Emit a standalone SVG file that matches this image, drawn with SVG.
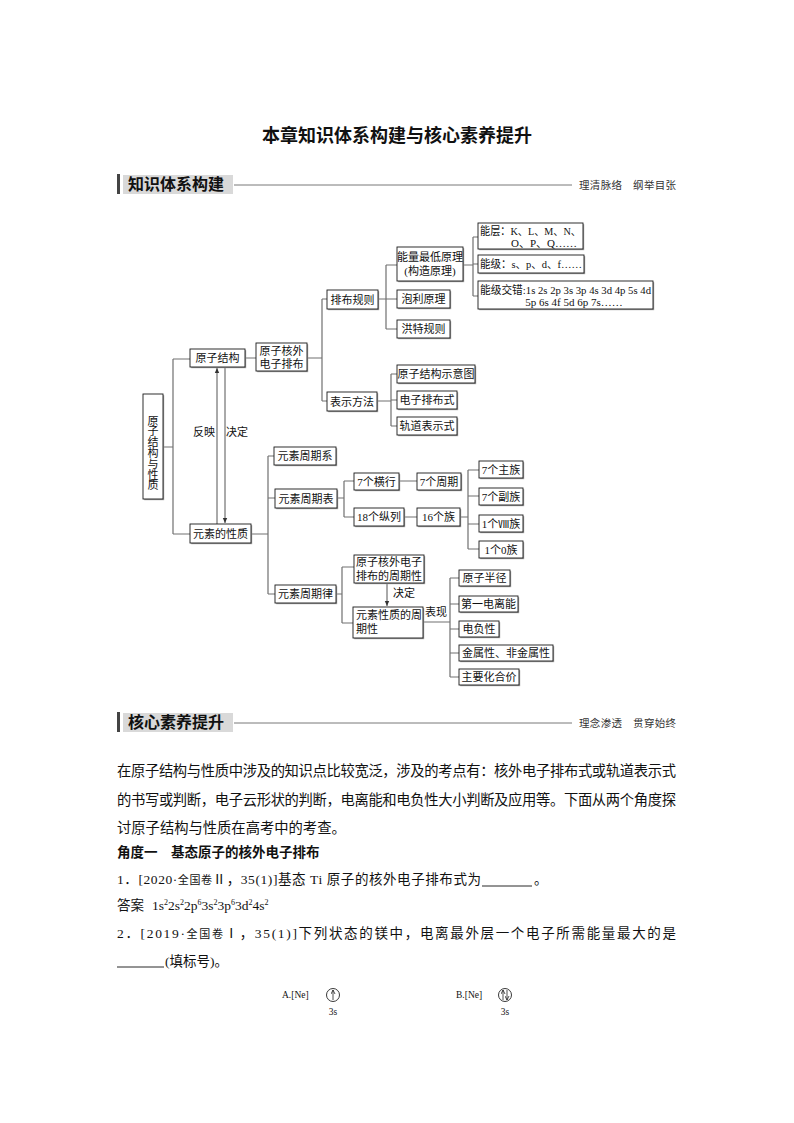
<svg xmlns="http://www.w3.org/2000/svg" width="794" height="1123" viewBox="0 0 794 1123">
<style>
.sd{fill:#a3a3a3}
.bx{fill:#fff;stroke:#1a1a1a;stroke-width:0.9}
.t{font-family:"Liberation Serif","Noto Sans CJK SC",serif;font-size:11px;fill:#111}
.m{text-anchor:middle}
.c{fill:none;stroke:#707070;stroke-width:1.2}
.ar{fill:none;stroke:#555;stroke-width:1}
.h{font-family:"Noto Sans CJK SC",sans-serif;font-weight:bold;fill:#111}
.r{font-family:"Noto Sans CJK SC",sans-serif;font-size:10.5px;fill:#333}
.p{font-family:"Liberation Serif","Noto Sans CJK SC",sans-serif;font-size:14.3px;fill:#111}
.q{font-family:"Liberation Serif","Noto Sans CJK SC",sans-serif;font-size:13.5px;fill:#111}
.s{font-family:"Liberation Serif","Noto Sans CJK SC",serif;font-size:9.5px;fill:#111}
</style>
<defs>
<marker id="ah" markerWidth="6" markerHeight="6" refX="5" refY="3" orient="auto" markerUnits="userSpaceOnUse">
<path d="M0,0.8 L5,3 L0,5.2 Z" fill="#333"/>
</marker>
<marker id="ah2" markerWidth="5" markerHeight="5" refX="4" refY="2.5" orient="auto" markerUnits="userSpaceOnUse">
<path d="M0,0.5 L4,2.5 L0,4.5" fill="none" stroke="#222" stroke-width="0.8"/>
</marker>
</defs>
<rect width="794" height="1123" fill="#fff"/>

<text x="397" y="142" text-anchor="middle" class="h" font-size="18">本章知识体系构建与核心素养提升</text>

<g id="header1">
<rect x="117" y="174" width="3" height="20" fill="#444"/>
<rect x="123" y="175" width="110" height="19" fill="#d9d9d9"/>
<text x="128" y="190" class="h" font-size="16">知识体系构建</text>
<line x1="234" y1="185" x2="572" y2="185" stroke="#555" stroke-width="0.8"/>
<text x="579" y="188.5" class="r" textLength="97" lengthAdjust="spacing">理清脉络　纲举目张</text>
</g>

<g id="connectors">
<path class="c" d="M163,447 H173 M173,359 V534 M173,359 H190 M173,534 H190"/>
<path class="c" d="M245,358 H256 M307,358 H322 M322,299 V401 M322,299 H327 M322,401 H327"/>
<path class="c" d="M378,299 H386 M386,265 V329 M386,265 H397 M386,299 H397 M386,329 H397"/>
<path class="c" d="M463,265 H473 M473,237 V296 M473,237 H478 M473,264 H478 M473,296 H478"/>
<path class="c" d="M377,401 H391 M391,374 V426 M391,374 H397 M391,400 H397 M391,426 H397"/>
<path class="ar" d="M217,524 V368" marker-end="url(#ah)"/>
<path class="ar" d="M225,367 V523" marker-end="url(#ah)"/>
<path class="c" d="M251,534 H268 M268,456 V594 M268,456 H274 M268,498 H275 M268,594 H275"/>
<path class="c" d="M337,498 H344 M344,481 V517 M344,481 H354 M344,517 H354 M399,481 H417 M404,517 H417"/>
<path class="c" d="M460,517 H468 M468,470 V549 M468,470 H479 M468,496 H479 M468,524 H479 M468,549 H479"/>
<path class="c" d="M336,594 H342 M342,567 V623 M342,567 H354 M342,623 H353"/>
<path class="ar" d="M387,583 V606" marker-end="url(#ah)"/>
<path class="c" d="M423,622 H450 M450,578 V677 M450,578 H459 M450,604 H459 M450,629 H459 M450,653 H459 M450,677 H459"/>
</g>

<g id="n-root">
<rect class="sd" x="144.2" y="395.2" width="20" height="105"/>
<rect class="bx" x="143" y="394" width="20" height="105"/>
<text class="t m" font-size="11"><tspan x="153" y="424.5">原</tspan><tspan x="153" y="435.3">子</tspan><tspan x="153" y="446.1">结</tspan><tspan x="153" y="456.9">构</tspan><tspan x="153" y="467.7">与</tspan><tspan x="153" y="478.5">性</tspan><tspan x="153" y="489.3">质</tspan></text>
</g>

<g id="n-yzjg">
<rect class="sd" x="191.2" y="350.2" width="55" height="18"/>
<rect class="bx" x="190" y="349" width="55" height="18"/>
<text class="t m" x="217.5" y="362">原子结构</text>
</g>
<g id="label-fy"><text class="t m" x="204" y="436">反映</text></g>
<g id="label-jd"><text class="t m" x="237" y="436">决定</text></g>
<g id="n-yzhw">
<rect class="sd" x="257.2" y="344.2" width="51" height="28"/>
<rect class="bx" x="256" y="343" width="51" height="28"/>
<text class="t m" x="281.5" y="354.5">原子核外</text>
<text class="t m" x="281.5" y="367.5">电子排布</text>
</g>
<g id="n-pbgz">
<rect class="sd" x="328.2" y="291.2" width="51" height="19"/>
<rect class="bx" x="327" y="290" width="51" height="19"/>
<text class="t m" x="352.5" y="303.5">排布规则</text>
</g>
<g id="n-ssff">
<rect class="sd" x="328.2" y="393.2" width="50" height="19"/>
<rect class="bx" x="327" y="392" width="50" height="19"/>
<text class="t m" x="352" y="405.5">表示方法</text>
</g>
<g id="n-nlzd">
<rect class="sd" x="398.2" y="248.2" width="66" height="34"/>
<rect class="bx" x="397" y="247" width="66" height="34"/>
<text class="t m" x="430" y="261">能量最低原理</text>
<text class="t m" x="430" y="275">(构造原理)</text>
</g>
<g id="n-plyl">
<rect class="sd" x="398.2" y="291.2" width="53" height="18"/>
<rect class="bx" x="397" y="290" width="53" height="18"/>
<text class="t m" x="423.5" y="303">泡利原理</text>
</g>
<g id="n-htgz">
<rect class="sd" x="398.2" y="321.2" width="53" height="18"/>
<rect class="bx" x="397" y="320" width="53" height="18"/>
<text class="t m" x="423.5" y="333">洪特规则</text>
</g>
<g id="n-nc">
<rect class="sd" x="479.2" y="224.2" width="105" height="26"/>
<rect class="bx" x="478" y="223" width="105" height="26"/>
<text class="t" x="480" y="235" textLength="101" lengthAdjust="spacingAndGlyphs">能层：K、L、M、N、</text>
<text class="t" x="511" y="247">O、P、Q……</text>
</g>
<g id="n-nj">
<rect class="sd" x="479.2" y="256.2" width="106" height="18"/>
<rect class="bx" x="478" y="255" width="106" height="18"/>
<text class="t" x="480" y="268" textLength="102" lengthAdjust="spacingAndGlyphs">能级：s、p、d、f……</text>
</g>
<g id="n-njjc">
<rect class="sd" x="479.2" y="282.2" width="175" height="28"/>
<rect class="bx" x="478" y="281" width="175" height="28"/>
<text class="t" x="480" y="293.5" textLength="171" lengthAdjust="spacingAndGlyphs">能级交错:1s 2s 2p 3s 3p 4s 3d 4p 5s 4d</text>
<text class="t m" x="574" y="306">5p 6s 4f 5d 6p 7s……</text>
</g>
<g id="n-jgsyt">
<rect class="sd" x="398.2" y="366.2" width="78" height="18"/>
<rect class="bx" x="397" y="365" width="78" height="18"/>
<text class="t m" x="436" y="378">原子结构示意图</text>
</g>
<g id="n-dzpbs">
<rect class="sd" x="398.2" y="392.2" width="60" height="18"/>
<rect class="bx" x="397" y="391" width="60" height="18"/>
<text class="t m" x="427" y="404">电子排布式</text>
</g>
<g id="n-gdbss">
<rect class="sd" x="398.2" y="418.2" width="60" height="18"/>
<rect class="bx" x="397" y="417" width="60" height="18"/>
<text class="t m" x="427" y="430">轨道表示式</text>
</g>

<g id="n-ysxz">
<rect class="sd" x="191.2" y="525.2" width="61" height="19"/>
<rect class="bx" x="190" y="524" width="61" height="19"/>
<text class="t m" x="220.5" y="537.5">元素的性质</text>
</g>
<g id="n-zqx">
<rect class="sd" x="275.2" y="448.2" width="62" height="18"/>
<rect class="bx" x="274" y="447" width="62" height="18"/>
<text class="t m" x="305" y="460">元素周期系</text>
</g>
<g id="n-zqb">
<rect class="sd" x="276.2" y="490.2" width="62" height="19"/>
<rect class="bx" x="275" y="489" width="62" height="19"/>
<text class="t m" x="306" y="502.5">元素周期表</text>
</g>
<g id="n-zql">
<rect class="sd" x="276.2" y="586.2" width="61" height="18"/>
<rect class="bx" x="275" y="585" width="61" height="18"/>
<text class="t m" x="305.5" y="598">元素周期律</text>
</g>
<g id="n-7hh">
<rect class="sd" x="355.2" y="474.2" width="45" height="17"/>
<rect class="bx" x="354" y="473" width="45" height="17"/>
<text class="t m" x="376.5" y="485.5">7个横行</text>
</g>
<g id="n-7zq">
<rect class="sd" x="418.2" y="474.2" width="44" height="17"/>
<rect class="bx" x="417" y="473" width="44" height="17"/>
<text class="t m" x="439" y="485.5">7个周期</text>
</g>
<g id="n-18zl">
<rect class="sd" x="355.2" y="509.2" width="50" height="18"/>
<rect class="bx" x="354" y="508" width="50" height="18"/>
<text class="t m" x="379" y="521">18个纵列</text>
</g>
<g id="n-16z">
<rect class="sd" x="418.2" y="509.2" width="43" height="18"/>
<rect class="bx" x="417" y="508" width="43" height="18"/>
<text class="t m" x="438.5" y="521">16个族</text>
</g>
<g id="n-7zz">
<rect class="sd" x="480.2" y="462.2" width="44" height="17"/>
<rect class="bx" x="479" y="461" width="44" height="17"/>
<text class="t m" x="501" y="473.5">7个主族</text>
</g>
<g id="n-7fz">
<rect class="sd" x="480.2" y="489.2" width="44" height="17"/>
<rect class="bx" x="479" y="488" width="44" height="17"/>
<text class="t m" x="501" y="500.5">7个副族</text>
</g>
<g id="n-1viii">
<rect class="sd" x="480.2" y="516.2" width="44" height="17"/>
<rect class="bx" x="479" y="515" width="44" height="17"/>
<text class="t m" x="501" y="527.5">1个Ⅷ族</text>
</g>
<g id="n-10z">
<rect class="sd" x="480.2" y="542.2" width="44" height="17"/>
<rect class="bx" x="479" y="541" width="44" height="17"/>
<text class="t m" x="501" y="553.5">1个0族</text>
</g>
<g id="n-hwzqx">
<rect class="sd" x="355.2" y="556.2" width="70" height="28"/>
<rect class="bx" x="354" y="555" width="70" height="28"/>
<text class="t m" x="389" y="566">原子核外电子</text>
<text class="t m" x="389" y="580">排布的周期性</text>
</g>
<g id="label-jd2"><text class="t m" x="404" y="597">决定</text></g>
<g id="n-xzzqx">
<rect class="sd" x="354.2" y="608.2" width="70" height="31"/>
<rect class="bx" x="353" y="607" width="70" height="31"/>
<text class="t" x="356" y="619">元素性质的周</text>
<text class="t" x="356" y="633">期性</text>
</g>
<g id="label-bx"><text class="t" x="425" y="616">表现</text></g>
<g id="n-yzbj">
<rect class="sd" x="460.2" y="571.2" width="51" height="16"/>
<rect class="bx" x="459" y="570" width="51" height="16"/>
<text class="t m" x="484.5" y="582">原子半径</text>
</g>
<g id="n-dydln">
<rect class="sd" x="460.2" y="597.2" width="59" height="16"/>
<rect class="bx" x="459" y="596" width="59" height="16"/>
<text class="t m" x="488.5" y="608">第一电离能</text>
</g>
<g id="n-dfx">
<rect class="sd" x="460.2" y="622.2" width="40" height="16"/>
<rect class="bx" x="459" y="621" width="40" height="16"/>
<text class="t m" x="479" y="633">电负性</text>
</g>
<g id="n-jsx">
<rect class="sd" x="460.2" y="646.2" width="94" height="16"/>
<rect class="bx" x="459" y="645" width="94" height="16"/>
<text class="t m" x="506" y="657">金属性、非金属性</text>
</g>
<g id="n-zyhhj">
<rect class="sd" x="460.2" y="670.2" width="60" height="16"/>
<rect class="bx" x="459" y="669" width="60" height="16"/>
<text class="t m" x="489" y="681">主要化合价</text>
</g>

<g id="header2">
<rect x="117" y="712" width="3" height="20" fill="#444"/>
<rect x="123" y="713" width="110" height="19" fill="#d9d9d9"/>
<text x="128" y="728" class="h" font-size="16">核心素养提升</text>
<line x1="234" y1="723" x2="572" y2="723" stroke="#555" stroke-width="0.8"/>
<text x="579" y="726.5" class="r" textLength="97" lengthAdjust="spacing">理念渗透　贯穿始终</text>
</g>

<g id="body">
<text class="p" x="117" y="776" textLength="559" lengthAdjust="spacing">在原子结构与性质中涉及的知识点比较宽泛，涉及的考点有：核外电子排布式或轨道表示式</text>
<text class="p" x="117" y="805" textLength="559" lengthAdjust="spacing">的书写或判断，电子云形状的判断，电离能和电负性大小判断及应用等。下面从两个角度探</text>
<text class="p" x="117" y="833">讨原子结构与性质在高考中的考查。</text>
<text class="q" x="117" y="857" font-weight="bold" font-size="13">角度一　基态原子的核外电子排布</text>
<text class="q" x="117" y="884" textLength="364" lengthAdjust="spacing">1．[2020·<tspan font-size="11">全国卷</tspan>Ⅱ，35(1)]基态 Ti 原子的核外电子排布式为</text>
<line x1="482" y1="886" x2="532" y2="886" stroke="#111" stroke-width="0.9"/>
<text class="q" x="534" y="884">。</text>
<text class="q" x="117" y="910" font-size="13">答案</text>
<text class="q" x="152" y="910" font-size="12.5">1s<tspan dy="-5" font-size="8">2</tspan><tspan dy="5">2s</tspan><tspan dy="-5" font-size="8">2</tspan><tspan dy="5">2p</tspan><tspan dy="-5" font-size="8">6</tspan><tspan dy="5">3s</tspan><tspan dy="-5" font-size="8">2</tspan><tspan dy="5">3p</tspan><tspan dy="-5" font-size="8">6</tspan><tspan dy="5">3d</tspan><tspan dy="-5" font-size="8">2</tspan><tspan dy="5">4s</tspan><tspan dy="-5" font-size="8">2</tspan></text>
<text class="q" x="117" y="938" textLength="559" lengthAdjust="spacing">2．[2019·<tspan font-size="11">全国卷</tspan>Ⅰ，35(1)]下列状态的镁中，电离最外层一个电子所需能量最大的是</text>
<line x1="117" y1="967" x2="164" y2="967" stroke="#111" stroke-width="0.9"/>
<text class="q" x="165" y="966">(填标号)。</text>
</g>

<g id="optA">
<text class="s" x="282" y="998">A.[Ne]</text>
<circle cx="333" cy="995" r="6.5" fill="none" stroke="#222" stroke-width="0.9"/>
<path d="M333,1000 V990" fill="none" stroke="#222" stroke-width="0.8" marker-end="url(#ah2)"/>
<text class="s m" x="333" y="1015">3s</text>
</g>
<g id="optB">
<text class="s" x="456" y="998">B.[Ne]</text>
<circle cx="505" cy="995" r="6.5" fill="none" stroke="#222" stroke-width="0.9"/>
<path d="M503,1000 V990" fill="none" stroke="#222" stroke-width="0.8" marker-end="url(#ah2)"/>
<path d="M507,990 V1000" fill="none" stroke="#222" stroke-width="0.8" marker-end="url(#ah2)"/>
<text class="s m" x="505" y="1015">3s</text>
</g>
</svg>
